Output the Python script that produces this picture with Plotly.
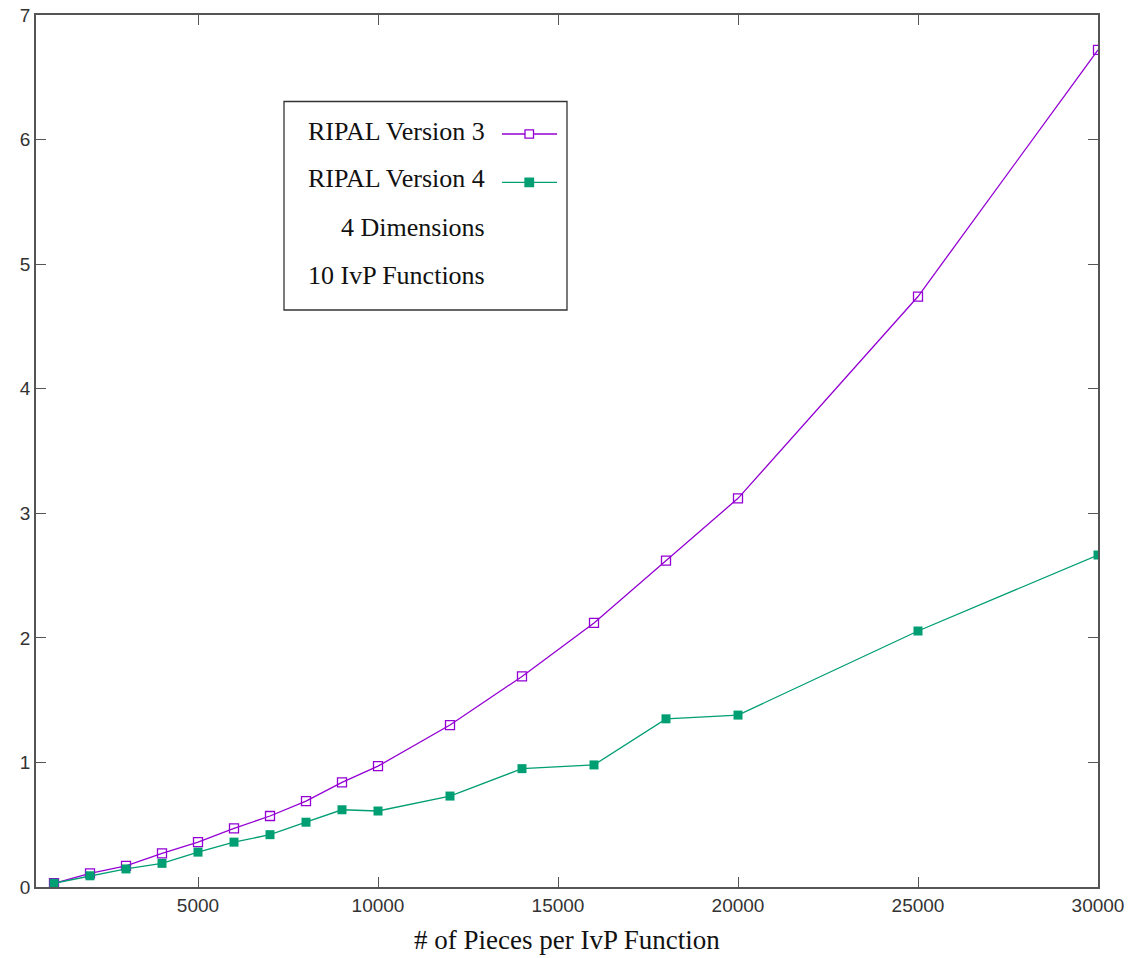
import plotly.graph_objects as go

# Pieces per IvP function (x) and solve times for the two RIPAL versions
pieces = [1000, 2000, 3000, 4000, 5000, 6000, 7000, 8000, 9000, 10000,
          12000, 14000, 16000, 18000, 20000, 25000, 30000]
ripal_v3 = [0.03, 0.11, 0.17, 0.27, 0.36, 0.47, 0.57, 0.69, 0.84, 0.97,
            1.30, 1.69, 2.12, 2.62, 3.12, 4.74, 6.72]
ripal_v4 = [0.03, 0.09, 0.145, 0.19, 0.28, 0.36, 0.42, 0.52, 0.62, 0.61,
            0.73, 0.95, 0.98, 1.35, 1.38, 2.055, 2.665]

x_ticks = [5000, 10000, 15000, 20000, 25000, 30000]
y_ticks = [0, 1, 2, 3, 4, 5, 6, 7]

series_names = ["RIPAL Version 3", "RIPAL Version 4"]
note_lines = ["4 Dimensions", "10 IvP Functions"]
x_title = "# of Pieces per IvP Function"

PURPLE = "#9400D3"
GREEN = "#009E73"
AXIS = "#555555"

W, H = 1133, 958
L, R, T, B = 36, 35, 15, 71

fig = go.Figure()
fig.add_trace(go.Scatter(
    x=pieces, y=ripal_v3, mode="lines+markers", name=series_names[0],
    line=dict(color=PURPLE, width=1.3),
    marker=dict(symbol="square-open", size=9, color=PURPLE, line=dict(width=1.3)),
    showlegend=False,
))
fig.add_trace(go.Scatter(
    x=pieces, y=ripal_v4, mode="lines+markers", name=series_names[1],
    line=dict(color=GREEN, width=1.3),
    marker=dict(symbol="square", size=9, color=GREEN),
    showlegend=False,
))


def px_x(p):
    return (p - L) / (W - L - R)


def px_y(p):
    return (H - B - p) / (H - T - B)


serif = "Liberation Serif, Times New Roman, serif"

# key box drawn in plot-paper units
shapes = [dict(type="rect", xref="paper", yref="paper",
               x0=px_x(284), x1=px_x(567), y0=px_y(310), y1=px_y(101.5),
               line=dict(color="#333333", width=1.3), fillcolor="white", layer="below")]
annotations = []
rows_y = [131, 179, 228, 276]
row_texts = series_names + note_lines
for ty, txt in zip(rows_y, row_texts):
    annotations.append(dict(
        xref="paper", yref="paper", x=px_x(487), y=px_y(ty),
        xanchor="right", yanchor="middle", text=txt, showarrow=False,
        font=dict(family=serif, size=26, color="#111111"),
    ))

for sy, col, filled in [(134, PURPLE, False), (182.3, GREEN, True)]:
    shapes.append(dict(type="line", xref="paper", yref="paper",
                       x0=px_x(502), x1=px_x(557), y0=px_y(sy), y1=px_y(sy),
                       line=dict(color=col, width=1.3)))
    shapes.append(dict(type="rect", xref="paper", yref="paper",
                       x0=px_x(525), x1=px_x(533.5), y0=px_y(sy + 4.2), y1=px_y(sy - 4.2),
                       line=dict(color=col, width=1.3),
                       fillcolor=col if filled else "white"))

# x-axis title placed below the tick labels
annotations.append(dict(
    xref="paper", yref="paper", x=0.5, y=px_y(940),
    xanchor="center", yanchor="middle", text=x_title, showarrow=False,
    font=dict(family=serif, size=27, color="#111111"),
))

fig.update_layout(
    width=W, height=H,
    margin=dict(l=L, r=R, t=T, b=B, autoexpand=False),
    plot_bgcolor="white", paper_bgcolor="white",
    shapes=shapes, annotations=annotations,
    font=dict(family="Liberation Sans, Arial, sans-serif", size=19, color="#333333"),
)
fig.update_xaxes(
    range=[500, 30000], tickvals=x_ticks, ticktext=[str(v) for v in x_ticks],
    ticks="inside", ticklen=10, tickwidth=1.3, tickcolor=AXIS,
    showline=True, linecolor=AXIS, linewidth=1.5, mirror="ticks",
    showgrid=False, zeroline=False, automargin=False,
)
fig.update_yaxes(
    range=[0, 7], tickvals=y_ticks,
    ticks="inside", ticklen=10, tickwidth=1.3, tickcolor=AXIS,
    showline=True, linecolor=AXIS, linewidth=1.5, mirror="ticks",
    showgrid=False, zeroline=False, automargin=False,
)

fig.write_html("out.html")
